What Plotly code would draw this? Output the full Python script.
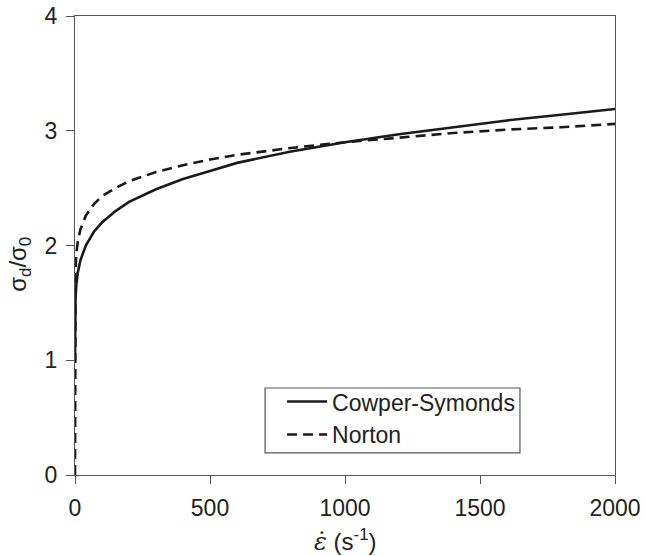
import plotly.graph_objects as go

# strain rate (1/s)
rate_cs = [0, 0.2, 1, 2, 5, 10, 20, 40, 70, 100, 150, 200, 300, 400, 500, 600, 800,
           1000, 1200, 1400, 1600, 1800, 2000]
cowper_symonds = [1.0, 1.35, 1.48, 1.55, 1.66, 1.76, 1.87, 2.00, 2.12, 2.20, 2.30, 2.38,
                  2.49, 2.58, 2.65, 2.72, 2.82, 2.90, 2.97, 3.03, 3.09, 3.14, 3.19]

rate_n = [0, 0.01, 0.1, 1, 2, 5, 10, 20, 40, 70, 100, 150, 200, 300, 400, 500, 600, 800,
          1000, 1200, 1400, 1600, 1800, 2000]
norton = [0.0, 1.19, 1.42, 1.70, 1.79, 1.93, 2.03, 2.14, 2.26, 2.36, 2.43, 2.50, 2.56,
          2.64, 2.70, 2.75, 2.79, 2.85, 2.90, 2.94, 2.98, 3.01, 3.03, 3.06]

x_ticks = [0, 500, 1000, 1500, 2000]
y_ticks = [0, 1, 2, 3, 4]

fig = go.Figure()
fig.add_trace(go.Scatter(x=rate_cs, y=cowper_symonds, mode="lines", name="Cowper-Symonds",
                         line=dict(color="#1a1a1a", width=2.6)))
fig.add_trace(go.Scatter(x=rate_n, y=norton, mode="lines", name="Norton",
                         line=dict(color="#1a1a1a", width=2.6, dash="10px,6px")))

axis_common = dict(showgrid=False, zeroline=False, showline=True, linecolor="#555555",
                   linewidth=1.2, mirror=True, ticks="outside", ticklen=8,
                   tickcolor="#555555", tickwidth=1.2, ticklabelstandoff=4,
                   automargin=False,
                   tickfont=dict(size=23, color="#222222"))

fig.update_layout(
    width=645, height=556,
    margin=dict(l=75, r=30, t=16, b=81),
    paper_bgcolor="white", plot_bgcolor="white",
    font=dict(family="Liberation Sans, Arial, sans-serif", color="#222222"),
    xaxis=dict(range=[0, 2000], tickvals=x_ticks, **axis_common),
    yaxis=dict(range=[0, 4], tickvals=y_ticks, **axis_common),
    legend=dict(x=0.3835, y=0.124, xanchor="left", yanchor="middle",
                borderwidth=0, bgcolor="rgba(0,0,0,0)",
                font=dict(size=23, color="#222222"), itemwidth=40,
                tracegroupgap=0),
    showlegend=True,
    shapes=[
        dict(type="rect", xref="paper", yref="paper", x0=0.352, x1=0.824,
             y0=0.048, y1=0.1895, line=dict(color="#555555", width=1.2),
             fillcolor="rgba(0,0,0,0)"),
    ],
    annotations=[
        dict(text="<span style='font-family:DejaVu Serif'><i>ε̇</i></span> (s<sup>-1</sup>)",
             xref="paper", yref="paper", x=0.5, y=-0.142, xanchor="center",
             yanchor="middle", showarrow=False, font=dict(size=24, color="#222222")),
        dict(text="σ<sub>d</sub>/σ<sub>0</sub>", textangle=-90,
             xref="paper", yref="paper", x=-0.102, y=0.46, xanchor="center",
             yanchor="middle", showarrow=False, font=dict(size=24, color="#222222")),
    ],
)

fig.write_html("out.html")
